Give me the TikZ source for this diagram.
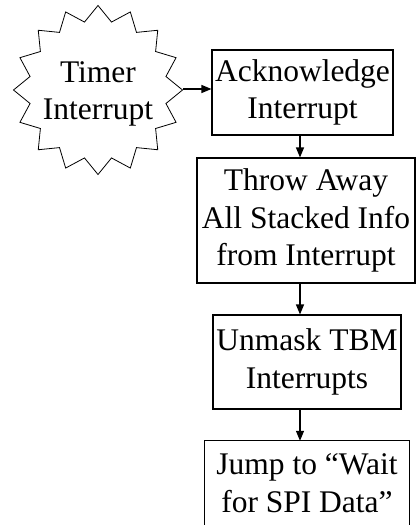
\documentclass[tikz,border=0pt]{standalone}
\usepackage{fontspec}
\setmainfont{Liberation Serif}
\usetikzlibrary{shapes.geometric,arrows.meta}
\begin{document}
\begin{tikzpicture}[x=1pt,y=-1pt,
  txt/.style={align=center,inner sep=0pt,font=\fontsize{31.5}{37.5}\selectfont},
  box/.style={txt,draw,line width=1.1pt},
  burst/.style={draw,line width=0.8pt,star,star points=16,star point ratio=1.22,
    minimum size=169pt,inner sep=0pt},
  arr/.style={line width=1.1pt,-{Triangle[length=10pt,width=8pt]}}]
\useasboundingbox (0,0) rectangle (416,525);
\node[burst] (timer) at (98,90) {};
\node[txt] (timertext) at (98,94) {Timer\\Interrupt};
\node[box,minimum width=181pt,minimum height=85pt] (ack) at (302.5,92.5) {Acknowledge\\Interrupt};
\node[box,minimum width=218pt,minimum height=125pt] (throw) at (306,220.5) {Throw Away\\All Stacked Info\\from Interrupt};
\node[box,minimum width=188pt,minimum height=94pt] (unmask) at (307,362) {Unmask TBM\\Interrupts};
\node[txt,minimum width=204pt,minimum height=84pt] (jump) at (307,483) {Jump to “Wait\\for SPI Data”};
\draw[line width=1.1pt] ([yshift=-30pt]jump.south west) -- (jump.north west) -- (jump.north east) -- ([yshift=-30pt]jump.south east);
\draw[arr] (timer.east |- 0,89) -- (ack.west |- 0,89);
\draw[arr] (300,135) coordinate (a1) -- (a1 |- throw.north);
\draw[arr] (a1 |- throw.south) -- (a1 |- unmask.north);
\draw[arr] (a1 |- unmask.south) -- (a1 |- jump.north);
\end{tikzpicture}
\end{document}
